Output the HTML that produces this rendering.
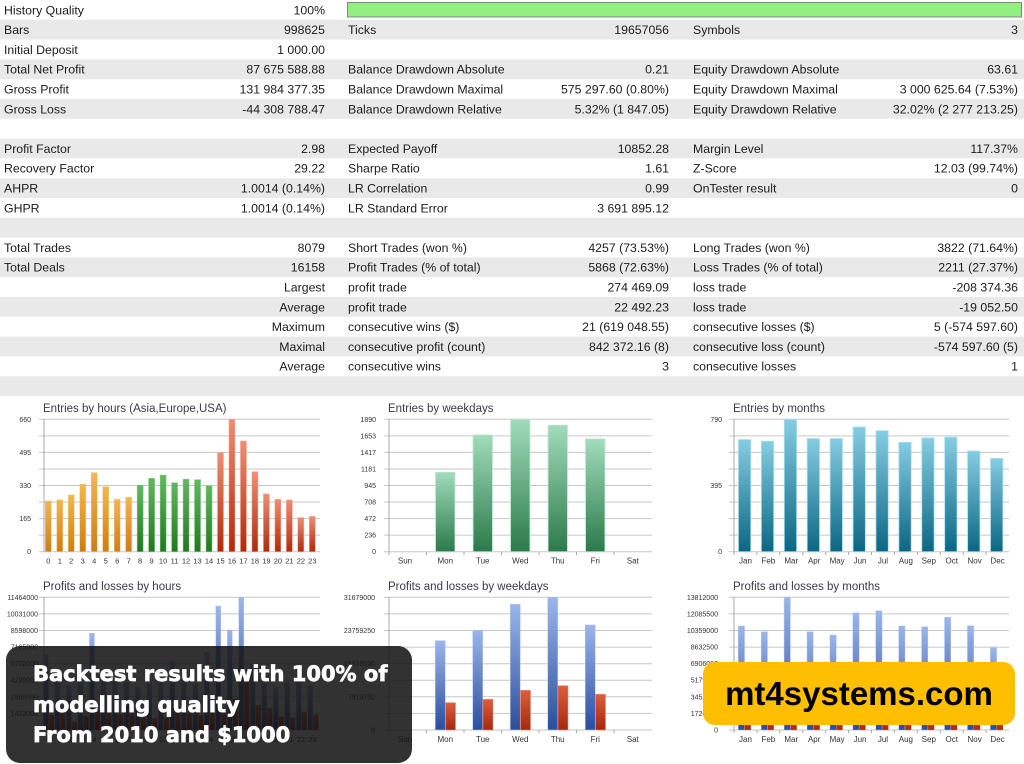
<!DOCTYPE html>
<html><head><meta charset="utf-8"><style>
html,body{margin:0;padding:0;background:#fff;width:1024px;height:764px;overflow:hidden}
svg{display:block}
.t{font-family:"Liberation Sans",Arial,sans-serif;font-size:12.3px;fill:#1c1c1c}
.ti{font-family:"Liberation Sans",Arial,sans-serif;font-size:11.5px;fill:#3a3a4a}
.yl{font-family:"Liberation Sans",Arial,sans-serif;font-size:7px;fill:#333;text-anchor:end}
.xl{font-family:"Liberation Sans",Arial,sans-serif;font-size:8px;fill:#333;text-anchor:middle}
.g line{stroke:#c6c6c6;stroke-width:1}
</style></head><body>
<svg width="1024" height="764" viewBox="0 0 1024 764" xmlns="http://www.w3.org/2000/svg">
<defs>
<linearGradient id="gOr" x1="0" y1="0" x2="0" y2="1"><stop offset="0" stop-color="#f3b650"/><stop offset="1" stop-color="#cf7d12"/></linearGradient>
<linearGradient id="gGr" x1="0" y1="0" x2="0" y2="1"><stop offset="0" stop-color="#62b862"/><stop offset="1" stop-color="#21781f"/></linearGradient>
<linearGradient id="gRd" x1="0" y1="0" x2="0" y2="1"><stop offset="0" stop-color="#ee8e76"/><stop offset="1" stop-color="#b02a0a"/></linearGradient>
<linearGradient id="gWk" x1="0" y1="0" x2="0" y2="1"><stop offset="0" stop-color="#a2dcbc"/><stop offset="1" stop-color="#2b7a4a"/></linearGradient>
<linearGradient id="gMo" x1="0" y1="0" x2="0" y2="1"><stop offset="0" stop-color="#86cde2"/><stop offset="1" stop-color="#0b6683"/></linearGradient>
<linearGradient id="gBl" x1="0" y1="0" x2="0" y2="1"><stop offset="0" stop-color="#9cb6ea"/><stop offset="1" stop-color="#2b4d9c"/></linearGradient>
<linearGradient id="gRl" x1="0" y1="0" x2="0" y2="1"><stop offset="0" stop-color="#dc5e3e"/><stop offset="1" stop-color="#a1290f"/></linearGradient>
</defs>

<!-- table row bands -->
<g fill="#e9e9e9">
<rect x="0" y="19.8" width="1024" height="19.8"/>
<rect x="0" y="59.4" width="1024" height="19.8"/>
<rect x="0" y="99" width="1024" height="19.8"/>
<rect x="0" y="138.6" width="1024" height="19.8"/>
<rect x="0" y="178.2" width="1024" height="19.8"/>
<rect x="0" y="217.8" width="1024" height="19.8"/>
<rect x="0" y="257.4" width="1024" height="19.8"/>
<rect x="0" y="297" width="1024" height="19.8"/>
<rect x="0" y="336.6" width="1024" height="19.8"/>
<rect x="0" y="376.2" width="1024" height="19.8"/>
</g>
<rect x="347.5" y="2.5" width="674" height="14.5" fill="#92f07e" stroke="#7f8a7f" stroke-width="1"/>

<g class="t">
<text x="4" y="14.3">History Quality</text><text x="325" y="14.3" text-anchor="end">100%</text>

<text x="4" y="34.1">Bars</text><text x="325" y="34.1" text-anchor="end">998625</text>
<text x="348" y="34.1">Ticks</text><text x="669" y="34.1" text-anchor="end">19657056</text>
<text x="693" y="34.1">Symbols</text><text x="1018" y="34.1" text-anchor="end">3</text>

<text x="4" y="53.9">Initial Deposit</text><text x="325" y="53.9" text-anchor="end">1 000.00</text>

<text x="4" y="73.7">Total Net Profit</text><text x="325" y="73.7" text-anchor="end">87 675 588.88</text>
<text x="348" y="73.7">Balance Drawdown Absolute</text><text x="669" y="73.7" text-anchor="end">0.21</text>
<text x="693" y="73.7">Equity Drawdown Absolute</text><text x="1018" y="73.7" text-anchor="end">63.61</text>

<text x="4" y="93.5">Gross Profit</text><text x="325" y="93.5" text-anchor="end">131 984 377.35</text>
<text x="348" y="93.5">Balance Drawdown Maximal</text><text x="669" y="93.5" text-anchor="end">575 297.60 (0.80%)</text>
<text x="693" y="93.5">Equity Drawdown Maximal</text><text x="1018" y="93.5" text-anchor="end">3 000 625.64 (7.53%)</text>

<text x="4" y="113.3">Gross Loss</text><text x="325" y="113.3" text-anchor="end">-44 308 788.47</text>
<text x="348" y="113.3">Balance Drawdown Relative</text><text x="669" y="113.3" text-anchor="end">5.32% (1 847.05)</text>
<text x="693" y="113.3">Equity Drawdown Relative</text><text x="1018" y="113.3" text-anchor="end">32.02% (2 277 213.25)</text>

<text x="4" y="152.9">Profit Factor</text><text x="325" y="152.9" text-anchor="end">2.98</text>
<text x="348" y="152.9">Expected Payoff</text><text x="669" y="152.9" text-anchor="end">10852.28</text>
<text x="693" y="152.9">Margin Level</text><text x="1018" y="152.9" text-anchor="end">117.37%</text>

<text x="4" y="172.7">Recovery Factor</text><text x="325" y="172.7" text-anchor="end">29.22</text>
<text x="348" y="172.7">Sharpe Ratio</text><text x="669" y="172.7" text-anchor="end">1.61</text>
<text x="693" y="172.7">Z-Score</text><text x="1018" y="172.7" text-anchor="end">12.03 (99.74%)</text>

<text x="4" y="192.5">AHPR</text><text x="325" y="192.5" text-anchor="end">1.0014 (0.14%)</text>
<text x="348" y="192.5">LR Correlation</text><text x="669" y="192.5" text-anchor="end">0.99</text>
<text x="693" y="192.5">OnTester result</text><text x="1018" y="192.5" text-anchor="end">0</text>

<text x="4" y="212.3">GHPR</text><text x="325" y="212.3" text-anchor="end">1.0014 (0.14%)</text>
<text x="348" y="212.3">LR Standard Error</text><text x="669" y="212.3" text-anchor="end">3 691 895.12</text>

<text x="4" y="251.9">Total Trades</text><text x="325" y="251.9" text-anchor="end">8079</text>
<text x="348" y="251.9">Short Trades (won %)</text><text x="669" y="251.9" text-anchor="end">4257 (73.53%)</text>
<text x="693" y="251.9">Long Trades (won %)</text><text x="1018" y="251.9" text-anchor="end">3822 (71.64%)</text>

<text x="4" y="271.7">Total Deals</text><text x="325" y="271.7" text-anchor="end">16158</text>
<text x="348" y="271.7">Profit Trades (% of total)</text><text x="669" y="271.7" text-anchor="end">5868 (72.63%)</text>
<text x="693" y="271.7">Loss Trades (% of total)</text><text x="1018" y="271.7" text-anchor="end">2211 (27.37%)</text>

<text x="325" y="291.5" text-anchor="end">Largest</text>
<text x="348" y="291.5">profit trade</text><text x="669" y="291.5" text-anchor="end">274 469.09</text>
<text x="693" y="291.5">loss trade</text><text x="1018" y="291.5" text-anchor="end">-208 374.36</text>

<text x="325" y="311.3" text-anchor="end">Average</text>
<text x="348" y="311.3">profit trade</text><text x="669" y="311.3" text-anchor="end">22 492.23</text>
<text x="693" y="311.3">loss trade</text><text x="1018" y="311.3" text-anchor="end">-19 052.50</text>

<text x="325" y="331.1" text-anchor="end">Maximum</text>
<text x="348" y="331.1">consecutive wins ($)</text><text x="669" y="331.1" text-anchor="end">21 (619 048.55)</text>
<text x="693" y="331.1">consecutive losses ($)</text><text x="1018" y="331.1" text-anchor="end">5 (-574 597.60)</text>

<text x="325" y="350.9" text-anchor="end">Maximal</text>
<text x="348" y="350.9">consecutive profit (count)</text><text x="669" y="350.9" text-anchor="end">842 372.16 (8)</text>
<text x="693" y="350.9">consecutive loss (count)</text><text x="1018" y="350.9" text-anchor="end">-574 597.60 (5)</text>

<text x="325" y="370.7" text-anchor="end">Average</text>
<text x="348" y="370.7">consecutive wins</text><text x="669" y="370.7" text-anchor="end">3</text>
<text x="693" y="370.7">consecutive losses</text><text x="1018" y="370.7" text-anchor="end">1</text>
</g>

<!-- ============ TOP CHARTS ============ -->
<text class="ti" x="43" y="412">Entries by hours (Asia,Europe,USA)</text>
<text class="ti" x="388" y="412">Entries by weekdays</text>
<text class="ti" x="733" y="412">Entries by months</text>

<g class="g">
<line x1="39" y1="419.3" x2="320" y2="419.3"/><line x1="39" y1="435.85" x2="320" y2="435.85"/><line x1="39" y1="452.4" x2="320" y2="452.4"/><line x1="39" y1="468.95" x2="320" y2="468.95"/><line x1="39" y1="485.5" x2="320" y2="485.5"/><line x1="39" y1="502.05" x2="320" y2="502.05"/><line x1="39" y1="518.6" x2="320" y2="518.6"/><line x1="39" y1="535.15" x2="320" y2="535.15"/><line x1="39" y1="551.7" x2="320" y2="551.7"/>
<line x1="384" y1="419.3" x2="652" y2="419.3"/><line x1="384" y1="435.85" x2="652" y2="435.85"/><line x1="384" y1="452.4" x2="652" y2="452.4"/><line x1="384" y1="468.95" x2="652" y2="468.95"/><line x1="384" y1="485.5" x2="652" y2="485.5"/><line x1="384" y1="502.05" x2="652" y2="502.05"/><line x1="384" y1="518.6" x2="652" y2="518.6"/><line x1="384" y1="535.15" x2="652" y2="535.15"/><line x1="384" y1="551.7" x2="652" y2="551.7"/>
<line x1="729" y1="419.3" x2="1009" y2="419.3"/><line x1="729" y1="435.85" x2="1009" y2="435.85"/><line x1="729" y1="452.4" x2="1009" y2="452.4"/><line x1="729" y1="468.95" x2="1009" y2="468.95"/><line x1="729" y1="485.5" x2="1009" y2="485.5"/><line x1="729" y1="502.05" x2="1009" y2="502.05"/><line x1="729" y1="518.6" x2="1009" y2="518.6"/><line x1="729" y1="535.15" x2="1009" y2="535.15"/><line x1="729" y1="551.7" x2="1009" y2="551.7"/>
</g>
<g stroke="#a8a8a8" stroke-width="1">
<line x1="44" y1="419" x2="44" y2="552"/>
<line x1="389" y1="419" x2="389" y2="555"/>
<line x1="734" y1="419" x2="734" y2="555"/>
<line x1="426.5" y1="552" x2="426.5" y2="555"/><line x1="464" y1="552" x2="464" y2="555"/><line x1="501.5" y1="552" x2="501.5" y2="555"/><line x1="539" y1="552" x2="539" y2="555"/><line x1="576.5" y1="552" x2="576.5" y2="555"/><line x1="614" y1="552" x2="614" y2="555"/>
<line x1="756.9" y1="552" x2="756.9" y2="555"/><line x1="779.8" y1="552" x2="779.8" y2="555"/><line x1="802.8" y1="552" x2="802.8" y2="555"/><line x1="825.7" y1="552" x2="825.7" y2="555"/><line x1="848.6" y1="552" x2="848.6" y2="555"/><line x1="871.5" y1="552" x2="871.5" y2="555"/><line x1="894.4" y1="552" x2="894.4" y2="555"/><line x1="917.3" y1="552" x2="917.3" y2="555"/><line x1="940.3" y1="552" x2="940.3" y2="555"/><line x1="963.2" y1="552" x2="963.2" y2="555"/><line x1="986.1" y1="552" x2="986.1" y2="555"/>
</g>

<g class="yl">
<text x="31" y="421.8">660</text><text x="31" y="454.9">495</text><text x="31" y="488">330</text><text x="31" y="521.1">165</text><text x="31" y="554.2">0</text>
<text x="376" y="421.8">1890</text><text x="376" y="438.35">1653</text><text x="376" y="454.9">1417</text><text x="376" y="471.45">1181</text><text x="376" y="488">945</text><text x="376" y="504.55">708</text><text x="376" y="521.1">472</text><text x="376" y="537.65">236</text><text x="376" y="554.2">0</text>
<text x="722" y="421.8">790</text><text x="722" y="488">395</text><text x="722" y="554.2">0</text>
</g>

<g fill="url(#gOr)" stroke="#f6c57a" stroke-width="0.5">
<rect x="45.3" y="500.95" width="6" height="50.75"/><rect x="56.78" y="499.74" width="6" height="51.96"/><rect x="68.26" y="494.93" width="6" height="56.77"/><rect x="79.74" y="484.3" width="6" height="67.4"/><rect x="91.22" y="472.66" width="6" height="79.04"/><rect x="102.7" y="486.7" width="6" height="65"/><rect x="114.18" y="499.34" width="6" height="52.36"/><rect x="125.66" y="497.33" width="6" height="54.37"/>
</g>
<g fill="url(#gGr)" stroke="#7ccb7c" stroke-width="0.5">
<rect x="137.14" y="485.3" width="6" height="66.4"/><rect x="148.62" y="478.28" width="6" height="73.42"/><rect x="160.1" y="475.07" width="6" height="76.63"/><rect x="171.58" y="482.69" width="6" height="69.01"/><rect x="183.06" y="479.28" width="6" height="72.42"/><rect x="194.54" y="479.68" width="6" height="72.02"/><rect x="206.02" y="485.7" width="6" height="66"/>
</g>
<g fill="url(#gRd)" stroke="#f2a690" stroke-width="0.5">
<rect x="217.5" y="452.6" width="6" height="99.1"/><rect x="228.98" y="419.3" width="6" height="132.4"/><rect x="240.46" y="440.96" width="6" height="110.74"/><rect x="251.94" y="471.66" width="6" height="80.04"/><rect x="263.42" y="493.92" width="6" height="57.78"/><rect x="274.9" y="499.34" width="6" height="52.36"/><rect x="286.38" y="499.94" width="6" height="51.76"/><rect x="297.86" y="517.6" width="6" height="34.1"/><rect x="309.34" y="516.39" width="6" height="35.31"/>
</g>
<g class="xl" style="font-size:7.5px">
<text x="48.3" y="563.5">0</text><text x="59.78" y="563.5">1</text><text x="71.26" y="563.5">2</text><text x="82.74" y="563.5">3</text><text x="94.22" y="563.5">4</text><text x="105.7" y="563.5">5</text><text x="117.18" y="563.5">6</text><text x="128.66" y="563.5">7</text><text x="140.14" y="563.5">8</text><text x="151.62" y="563.5">9</text><text x="163.1" y="563.5">10</text><text x="174.58" y="563.5">11</text><text x="186.06" y="563.5">12</text><text x="197.54" y="563.5">13</text><text x="209.02" y="563.5">14</text><text x="220.5" y="563.5">15</text><text x="231.98" y="563.5">16</text><text x="243.46" y="563.5">17</text><text x="254.94" y="563.5">18</text><text x="266.42" y="563.5">19</text><text x="277.9" y="563.5">20</text><text x="289.38" y="563.5">21</text><text x="300.86" y="563.5">22</text><text x="312.34" y="563.5">23</text>
</g>

<g fill="url(#gWk)" stroke="#b4e6c8" stroke-width="0.8">
<rect x="435.6" y="472.33" width="19.3" height="79.37"/><rect x="473.1" y="434.99" width="19.3" height="116.71"/><rect x="510.6" y="419.3" width="19.3" height="132.4"/><rect x="548.1" y="425.32" width="19.3" height="126.38"/><rect x="585.6" y="438.98" width="19.3" height="112.72"/>
</g>
<g class="xl">
<text x="405" y="563.5">Sun</text><text x="445.25" y="563.5">Mon</text><text x="482.75" y="563.5">Tue</text><text x="520.25" y="563.5">Wed</text><text x="557.75" y="563.5">Thu</text><text x="595.25" y="563.5">Fri</text><text x="632.75" y="563.5">Sat</text>
</g>

<g fill="url(#gMo)" stroke="#a6dff0" stroke-width="0.8">
<rect x="738.46" y="439.58" width="12.3" height="112.12"/><rect x="761.38" y="441.26" width="12.3" height="110.44"/><rect x="784.29" y="419.3" width="12.3" height="132.4"/><rect x="807.21" y="438.58" width="12.3" height="113.12"/><rect x="830.13" y="438.58" width="12.3" height="113.12"/><rect x="853.04" y="427.01" width="12.3" height="124.69"/><rect x="875.96" y="430.7" width="12.3" height="121"/><rect x="898.88" y="442.26" width="12.3" height="109.44"/><rect x="921.79" y="437.9" width="12.3" height="113.8"/><rect x="944.71" y="437.24" width="12.3" height="114.46"/><rect x="967.63" y="450.98" width="12.3" height="100.72"/><rect x="990.54" y="458.35" width="12.3" height="93.35"/>
</g>
<g class="xl">
<text x="745.46" y="563.5">Jan</text><text x="768.38" y="563.5">Feb</text><text x="791.29" y="563.5">Mar</text><text x="814.21" y="563.5">Apr</text><text x="837.13" y="563.5">May</text><text x="860.04" y="563.5">Jun</text><text x="882.96" y="563.5">Jul</text><text x="905.88" y="563.5">Aug</text><text x="928.79" y="563.5">Sep</text><text x="951.71" y="563.5">Oct</text><text x="974.63" y="563.5">Nov</text><text x="997.54" y="563.5">Dec</text>
</g>

<!-- ============ BOTTOM CHARTS ============ -->
<text class="ti" x="43" y="590">Profits and losses by hours</text>
<text class="ti" x="388" y="590">Profits and losses by weekdays</text>
<text class="ti" x="733" y="590">Profits and losses by months</text>

<g class="g">
<line x1="39" y1="597.3" x2="320" y2="597.3"/><line x1="39" y1="613.9" x2="320" y2="613.9"/><line x1="39" y1="630.5" x2="320" y2="630.5"/><line x1="39" y1="647.1" x2="320" y2="647.1"/><line x1="39" y1="663.7" x2="320" y2="663.7"/><line x1="39" y1="680.2" x2="320" y2="680.2"/><line x1="39" y1="696.8" x2="320" y2="696.8"/><line x1="39" y1="713.4" x2="320" y2="713.4"/><line x1="39" y1="730" x2="320" y2="730"/>
<line x1="384" y1="597.3" x2="652" y2="597.3"/><line x1="384" y1="613.9" x2="652" y2="613.9"/><line x1="384" y1="630.5" x2="652" y2="630.5"/><line x1="384" y1="647.1" x2="652" y2="647.1"/><line x1="384" y1="663.7" x2="652" y2="663.7"/><line x1="384" y1="680.2" x2="652" y2="680.2"/><line x1="384" y1="696.8" x2="652" y2="696.8"/><line x1="384" y1="713.4" x2="652" y2="713.4"/><line x1="384" y1="730" x2="652" y2="730"/>
<line x1="729" y1="597.3" x2="1009" y2="597.3"/><line x1="729" y1="613.9" x2="1009" y2="613.9"/><line x1="729" y1="630.5" x2="1009" y2="630.5"/><line x1="729" y1="647.1" x2="1009" y2="647.1"/><line x1="729" y1="663.7" x2="1009" y2="663.7"/><line x1="729" y1="680.2" x2="1009" y2="680.2"/><line x1="729" y1="696.8" x2="1009" y2="696.8"/><line x1="729" y1="713.4" x2="1009" y2="713.4"/><line x1="729" y1="730" x2="1009" y2="730"/>
</g>
<g stroke="#a8a8a8" stroke-width="1">
<line x1="44" y1="597" x2="44" y2="730"/>
<line x1="389" y1="597" x2="389" y2="733"/>
<line x1="734" y1="597" x2="734" y2="733"/>
<line x1="426.5" y1="730" x2="426.5" y2="733"/><line x1="464" y1="730" x2="464" y2="733"/><line x1="501.5" y1="730" x2="501.5" y2="733"/><line x1="539" y1="730" x2="539" y2="733"/><line x1="576.5" y1="730" x2="576.5" y2="733"/><line x1="614" y1="730" x2="614" y2="733"/>
<line x1="756.9" y1="730" x2="756.9" y2="733"/><line x1="779.8" y1="730" x2="779.8" y2="733"/><line x1="802.8" y1="730" x2="802.8" y2="733"/><line x1="825.7" y1="730" x2="825.7" y2="733"/><line x1="848.6" y1="730" x2="848.6" y2="733"/><line x1="871.5" y1="730" x2="871.5" y2="733"/><line x1="894.4" y1="730" x2="894.4" y2="733"/><line x1="917.3" y1="730" x2="917.3" y2="733"/><line x1="940.3" y1="730" x2="940.3" y2="733"/><line x1="963.2" y1="730" x2="963.2" y2="733"/><line x1="986.1" y1="730" x2="986.1" y2="733"/>
</g>
<g class="yl">
<text x="38" y="599.8">11464000</text><text x="38" y="616.4">10031000</text><text x="38" y="633">8598000</text><text x="38" y="649.6">7165000</text><text x="38" y="666.2">5732000</text><text x="38" y="682.7">4299000</text><text x="38" y="699.3">2866000</text><text x="38" y="715.9">1433000</text><text x="38" y="732.5">0</text>
<text x="375" y="599.8">31679000</text><text x="375" y="633">23759250</text><text x="375" y="666.2">15839500</text><text x="375" y="699.3">7919750</text><text x="375" y="732.5">0</text>
<text x="718" y="599.8">13812000</text><text x="718" y="616.4">12085500</text><text x="718" y="633">10359000</text><text x="718" y="649.6">8632500</text><text x="718" y="666.2">6906000</text><text x="718" y="682.7">5179500</text><text x="718" y="699.3">3453000</text><text x="718" y="715.9">1726500</text><text x="718" y="732.5">0</text>
</g>

<g fill="url(#gBl)" stroke="#b0c6f0" stroke-width="0.4">
<rect x="43.5" y="655" width="5" height="75"/><rect x="54.99" y="681.7" width="5" height="48.3"/><rect x="66.48" y="686" width="5" height="44"/><rect x="77.97" y="681.7" width="5" height="48.3"/><rect x="89.46" y="633.3" width="5" height="96.7"/><rect x="100.95" y="681.7" width="5" height="48.3"/><rect x="112.44" y="682.3" width="5" height="47.7"/><rect x="123.93" y="682.3" width="5" height="47.7"/><rect x="135.42" y="687.3" width="5" height="42.7"/><rect x="146.91" y="683.3" width="5" height="46.7"/><rect x="158.4" y="681.7" width="5" height="48.3"/><rect x="169.89" y="661" width="5" height="69"/><rect x="181.38" y="681.7" width="5" height="48.3"/><rect x="192.87" y="684" width="5" height="46"/><rect x="204.36" y="652.3" width="5" height="77.7"/><rect x="215.85" y="606" width="5" height="124"/><rect x="227.34" y="630" width="5" height="100"/><rect x="238.83" y="597.3" width="5" height="132.7"/><rect x="250.32" y="663.3" width="5" height="66.7"/><rect x="261.81" y="683.3" width="5" height="46.7"/><rect x="273.3" y="687.7" width="5" height="42.3"/><rect x="284.79" y="682.3" width="5" height="47.7"/><rect x="296.28" y="681.7" width="5" height="48.3"/><rect x="307.77" y="686" width="5" height="44"/>
</g>
<g fill="url(#gRl)" stroke="#e88a70" stroke-width="0.4">
<rect x="49" y="715" width="5" height="15"/><rect x="60.49" y="713.3" width="5" height="16.7"/><rect x="71.98" y="721.7" width="5" height="8.3"/><rect x="83.47" y="715.7" width="5" height="14.3"/><rect x="94.96" y="710" width="5" height="20"/><rect x="106.45" y="713.3" width="5" height="16.7"/><rect x="117.94" y="714.3" width="5" height="15.7"/><rect x="129.43" y="713.3" width="5" height="16.7"/><rect x="140.92" y="717.7" width="5" height="12.3"/><rect x="152.41" y="718.3" width="5" height="11.7"/><rect x="163.9" y="717.7" width="5" height="12.3"/><rect x="175.39" y="713.3" width="5" height="16.7"/><rect x="186.88" y="713.3" width="5" height="16.7"/><rect x="198.37" y="715" width="5" height="15"/><rect x="209.86" y="713.3" width="5" height="16.7"/><rect x="221.35" y="713.3" width="5" height="16.7"/><rect x="232.84" y="699" width="5" height="31"/><rect x="244.33" y="682.3" width="5" height="47.7"/><rect x="255.82" y="705" width="5" height="25"/><rect x="267.31" y="708.3" width="5" height="21.7"/><rect x="278.8" y="716.7" width="5" height="13.3"/><rect x="290.29" y="717.7" width="5" height="12.3"/><rect x="301.78" y="711.7" width="5" height="18.3"/><rect x="313.27" y="715" width="5" height="15"/>
</g>
<g class="xl" style="font-size:7.5px">
<text x="48.3" y="742">0</text><text x="59.78" y="742">1</text><text x="71.26" y="742">2</text><text x="82.74" y="742">3</text><text x="94.22" y="742">4</text><text x="105.7" y="742">5</text><text x="117.18" y="742">6</text><text x="128.66" y="742">7</text><text x="140.14" y="742">8</text><text x="151.62" y="742">9</text><text x="163.1" y="742">10</text><text x="174.58" y="742">11</text><text x="186.06" y="742">12</text><text x="197.54" y="742">13</text><text x="209.02" y="742">14</text><text x="220.5" y="742">15</text><text x="231.98" y="742">16</text><text x="243.46" y="742">17</text><text x="254.94" y="742">18</text><text x="266.42" y="742">19</text><text x="277.9" y="742">20</text><text x="289.38" y="742">21</text><text x="300.86" y="742">22</text><text x="312.34" y="742">23</text>
</g>

<g fill="url(#gBl)" stroke="#b0c6f0" stroke-width="0.6">
<rect x="435.25" y="640.7" width="10" height="89.3"/><rect x="472.75" y="630.3" width="10" height="99.7"/><rect x="510.25" y="604.3" width="10" height="125.7"/><rect x="547.75" y="597.3" width="10" height="132.7"/><rect x="585.25" y="625" width="10" height="105"/>
</g>
<g fill="url(#gRl)" stroke="#e88a70" stroke-width="0.6">
<rect x="445.5" y="702.7" width="10" height="27.3"/><rect x="483" y="699.3" width="10" height="30.7"/><rect x="520.5" y="690.3" width="10" height="39.7"/><rect x="558" y="685.7" width="10" height="44.3"/><rect x="595.5" y="694.3" width="10" height="35.7"/>
</g>
<g class="xl">
<text x="405" y="742">Sun</text><text x="445.25" y="742">Mon</text><text x="482.75" y="742">Tue</text><text x="520.25" y="742">Wed</text><text x="557.75" y="742">Thu</text><text x="595.25" y="742">Fri</text><text x="632.75" y="742">Sat</text>
</g>

<g fill="url(#gBl)" stroke="#b0c6f0" stroke-width="0.4">
<rect x="738.26" y="626" width="6.3" height="104"/><rect x="761.18" y="631.7" width="6.3" height="98.3"/><rect x="784.09" y="597.3" width="6.3" height="132.7"/><rect x="807.01" y="631.7" width="6.3" height="98.3"/><rect x="829.93" y="635" width="6.3" height="95"/><rect x="852.84" y="612.7" width="6.3" height="117.3"/><rect x="875.76" y="610.7" width="6.3" height="119.3"/><rect x="898.68" y="626" width="6.3" height="104"/><rect x="921.59" y="626.7" width="6.3" height="103.3"/><rect x="944.51" y="617.3" width="6.3" height="112.7"/><rect x="967.43" y="625.7" width="6.3" height="104.3"/><rect x="990.34" y="647.7" width="6.3" height="82.3"/>
</g>
<g fill="url(#gRl)" stroke="#e88a70" stroke-width="0.4">
<rect x="744.66" y="712" width="6.3" height="18"/><rect x="767.58" y="712" width="6.3" height="18"/><rect x="790.49" y="712" width="6.3" height="18"/><rect x="813.41" y="712" width="6.3" height="18"/><rect x="836.33" y="712" width="6.3" height="18"/><rect x="859.24" y="712" width="6.3" height="18"/><rect x="882.16" y="712" width="6.3" height="18"/><rect x="905.08" y="712" width="6.3" height="18"/><rect x="927.99" y="712" width="6.3" height="18"/><rect x="950.91" y="712" width="6.3" height="18"/><rect x="973.83" y="712" width="6.3" height="18"/><rect x="996.74" y="712" width="6.3" height="18"/>
</g>
<g class="xl">
<text x="745.46" y="742">Jan</text><text x="768.38" y="742">Feb</text><text x="791.29" y="742">Mar</text><text x="814.21" y="742">Apr</text><text x="837.13" y="742">May</text><text x="860.04" y="742">Jun</text><text x="882.96" y="742">Jul</text><text x="905.88" y="742">Aug</text><text x="928.79" y="742">Sep</text><text x="951.71" y="742">Oct</text><text x="974.63" y="742">Nov</text><text x="997.54" y="742">Dec</text>
</g>

<!-- ============ OVERLAYS ============ -->
<rect x="6" y="646" width="406" height="117" rx="14" ry="14" fill="rgb(20,20,20)" fill-opacity="0.87"/>
<g font-family="'DejaVu Sans','Liberation Sans',sans-serif" font-weight="bold" font-size="21" fill="#ffffff" stroke="#ffffff" stroke-width="0.7">
<text x="33" y="681">Backtest results with 100% of</text>
<text x="33" y="712">modelling quality</text>
<text x="33" y="742">From 2010 and $1000</text>
</g>

<rect x="703" y="662" width="312" height="63" rx="12" ry="12" fill="#fdbf00"/>
<text x="859" y="705" text-anchor="middle" font-family="'Liberation Sans',Arial,sans-serif" font-weight="bold" font-size="33" fill="#000">mt4systems.com</text>
</svg>
</body></html>
